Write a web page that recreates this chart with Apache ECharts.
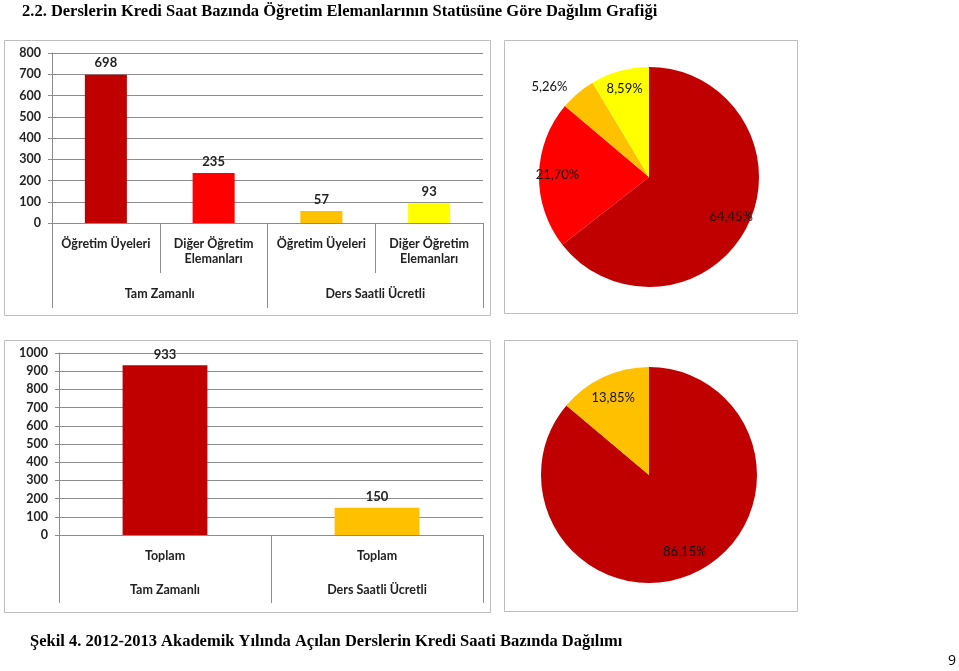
<!DOCTYPE html>
<html>
<head>
<meta charset="utf-8">
<script src="https://cdn.jsdelivr.net/npm/echarts@6/dist/echarts.min.js"></script>
<style>
html,body{margin:0;padding:0;background:#fff;}
#c{width:959px;height:671px;}
</style>
</head>
<body>
<div id="c"></div>
<script>
// ---- data ----
const topCategories = ['Öğretim Üyeleri', 'Diğer Öğretim\nElemanları', 'Öğretim Üyeleri', 'Diğer Öğretim\nElemanları'];
const topGroups = ['Tam Zamanlı', 'Ders Saatli Ücretli'];
const topValues = [698, 235, 57, 93];
const bottomCategories = ['Toplam', 'Toplam'];
const bottomGroups = ['Tam Zamanlı', 'Ders Saatli Ücretli'];
const bottomValues = [933, 150];
const topYAxis = { min: 0, max: 800, interval: 100 };
const bottomYAxis = { min: 0, max: 1000, interval: 100 };
const titleText = '2.2. Derslerin Kredi Saat Bazında Öğretim Elemanlarının Statüsüne Göre Dağılım Grafiği';
const captionText = 'Şekil 4. 2012-2013 Akademik Yılında Açılan Derslerin Kredi Saati Bazında Dağılımı';
const pageNumber = '9';

// ---- styles ----
const topColors = ['#C00000', '#FF0000', '#FFC000', '#FFFF00'];
const bottomColors = ['#C00000', '#FFC000'];
const topOutsideLabel = 2;
const FONT = 'Lato';
const GRID_COLOR = '#8C8C8C';
const FRAME_COLOR = '#BDBDBD';

const chart = echarts.init(document.getElementById('c'));

function pct(p) { return p.percent.toFixed(2).replace('.', ',') + '%'; }

function catAxis(gridIndex, data, margin, tickLen) {
  return {
    type: 'category', gridIndex, data, position: 'bottom', offset: 0,
    axisLine: { show: true, lineStyle: { color: GRID_COLOR, width: 1 } },
    axisTick: { show: true, interval: 0, alignWithLabel: false, length: tickLen, lineStyle: { color: GRID_COLOR } },
    axisLabel: { interval: 0, margin, fontFamily: FONT, fontSize: 12.5, fontWeight: 'bold', color: '#222', lineHeight: 15 },
    splitLine: { show: false }
  };
}
function valAxis(gridIndex, cfg, margin) {
  return {
    type: 'value', gridIndex, min: cfg.min, max: cfg.max, interval: cfg.interval,
    axisLine: { show: true, lineStyle: { color: GRID_COLOR } },
    axisTick: { show: true, length: 4, lineStyle: { color: GRID_COLOR } },
    axisLabel: { margin, fontFamily: FONT, fontSize: 12.5, fontWeight: 'bold', color: '#222', formatter: v => String(v) },
    splitLine: { show: true, lineStyle: { color: GRID_COLOR, width: 1 } }
  };
}

const labelStyle = { fontFamily: FONT, fontSize: 13, color: '#111' };
const barLabel = { show: true, position: 'top', fontFamily: FONT, fontSize: 13, fontWeight: 'bold', color: '#222' };

const option = {
  animation: false,
  backgroundColor: '#fff',
  graphic: [
    { type: 'rect', shape: { x: 4.5, y: 40.5, width: 486, height: 275 }, style: { fill: '#fff', stroke: FRAME_COLOR, lineWidth: 1 }, z: -10 },
    { type: 'rect', shape: { x: 504.5, y: 40.5, width: 293, height: 273 }, style: { fill: '#fff', stroke: FRAME_COLOR, lineWidth: 1 }, z: -10 },
    { type: 'rect', shape: { x: 4.5, y: 340.5, width: 486, height: 272 }, style: { fill: '#fff', stroke: FRAME_COLOR, lineWidth: 1 }, z: -10 },
    { type: 'rect', shape: { x: 504.5, y: 340.5, width: 293, height: 271 }, style: { fill: '#fff', stroke: FRAME_COLOR, lineWidth: 1 }, z: -10 },
    { type: 'text', left: 22, top: 3, style: { text: titleText, font: 'bold 16.5px "Liberation Serif"', fill: '#000' } },
    { type: 'text', left: 30, top: 633, style: { text: captionText, font: 'bold 16.5px "Liberation Serif"', fill: '#000' } },
    { type: 'text', left: 948, top: 654, style: { text: pageNumber, font: '14px "Open Sans"', fill: '#000' } }
  ],
  grid: [
    { left: 52, top: 53, width: 431, height: 170 },
    { left: 59, top: 353, width: 424, height: 182 }
  ],
  xAxis: [
    catAxis(0, topCategories, 13, 50),
    catAxis(0, topGroups, 63, 85),
    catAxis(1, bottomCategories, 13, 68),
    catAxis(1, bottomGroups, 47, 68)
  ],
  yAxis: [valAxis(0, topYAxis, 11), valAxis(1, bottomYAxis, 11)],
  series: [
    {
      type: 'bar', xAxisIndex: 0, yAxisIndex: 0, barWidth: '39%',
      data: topValues.map((v, i) => ({ value: v, itemStyle: { color: topColors[i] } })),
      label: Object.assign({ distance: 5 }, barLabel)
    },
    {
      type: 'bar', xAxisIndex: 2, yAxisIndex: 1, barWidth: '40%',
      data: bottomValues.map((v, i) => ({ value: v, itemStyle: { color: bottomColors[i] } })),
      label: Object.assign({ distance: 4 }, barLabel)
    },
    {
      type: 'pie', center: [649, 177], radius: 110, startAngle: 90, clockwise: true,
      label: { show: false }, labelLine: { show: false }, silent: true,
      data: topValues.map((v, i) => ({ value: v, itemStyle: { color: topColors[i] } }))
    },
    {
      type: 'pie', center: [649, 177], radius: [67, 110], startAngle: 90, clockwise: true,
      avoidLabelOverlap: false, silent: true,
      itemStyle: { color: 'rgba(0,0,0,0)' },
      label: Object.assign({ show: true, position: 'inside', formatter: pct }, labelStyle),
      labelLine: { show: false },
      data: topValues.map((v, i) => i === topOutsideLabel
        ? { value: v, label: { position: 'outside' }, labelLine: { show: false, length: 8, length2: 0 } }
        : { value: v })
    },
    {
      type: 'pie', center: [649, 475], radius: 108, startAngle: 90, clockwise: true,
      label: { show: false }, labelLine: { show: false }, silent: true,
      data: bottomValues.map((v, i) => ({ value: v, itemStyle: { color: bottomColors[i] } }))
    },
    {
      type: 'pie', center: [649, 475], radius: [56, 108], startAngle: 90, clockwise: true,
      avoidLabelOverlap: false, silent: true,
      itemStyle: { color: 'rgba(0,0,0,0)' },
      label: Object.assign({ show: true, position: 'inside', formatter: pct }, labelStyle),
      labelLine: { show: false },
      data: bottomValues.map(v => ({ value: v }))
    }
  ]
};
chart.setOption(option);
</script>
</body>
</html>
